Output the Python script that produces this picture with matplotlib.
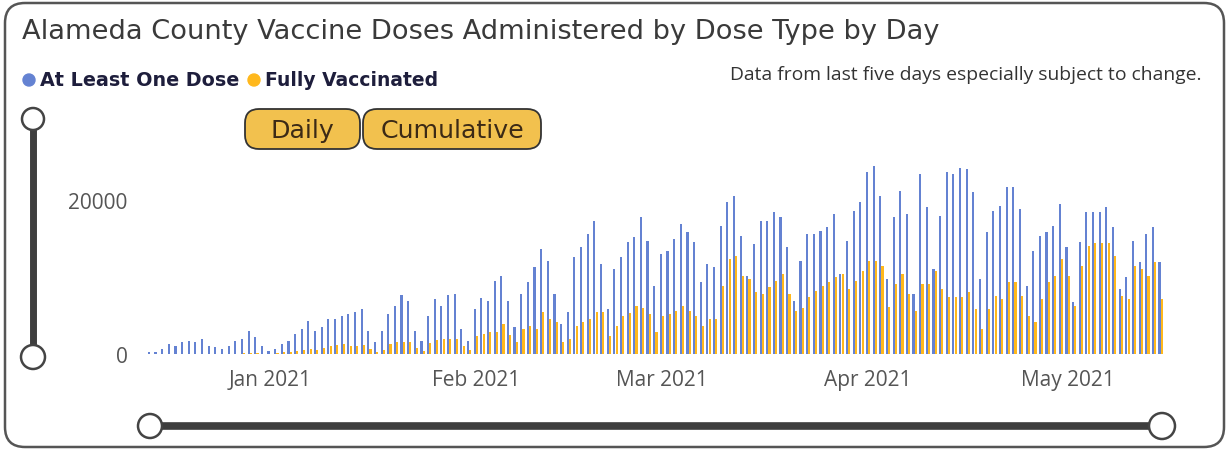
import pandas as pd
import matplotlib
matplotlib.use("Agg")
import matplotlib.pyplot as plt
import matplotlib.dates as mdates
from matplotlib.patches import FancyBboxPatch, Circle

# daily doses, one value per day from start_date to end_date
start_date = "2020-12-14"
end_date = "2021-05-15"

at_least_one = [
    260, 260, 650, 1300, 1040, 1560, 1690, 1560, 1950, 1040,
    910, 650, 1040, 1690, 1950, 2990, 2210, 1040, 390, 650,
    1300, 1690, 2600, 3250, 4290, 2990, 3510, 4550, 4550, 4940,
    5200, 5460, 5850, 2990, 1560, 2990, 5200, 6240, 7670, 6890,
    2990, 1690, 4940, 7150, 6240, 7670, 7800, 3250, 1690, 5850,
    7280, 6890, 9490, 10140, 6890, 3510, 7800, 9360, 11310, 13650,
    12090,
    7800, 3900, 5460, 12610, 13910, 15600, 17290, 11700, 5850, 11050,
    12610, 14560, 15210, 17810, 14690, 8840, 13000, 13390, 14950, 16900,
    15860, 14560, 9360, 11700, 11310, 16640, 19760, 20540, 15340, 10140,
    14300,
    17290, 17290, 18460, 17810, 13910, 6890, 12090, 15600, 15600, 15990,
    16510, 18200, 10400, 14690, 18590, 19760, 23660, 24440, 20540, 9750,
    17810, 21190, 18200, 7800, 23400, 19110, 11050, 17940, 23660, 23400,
    24200, 24000, 21000, 9750, 15860, 18590, 19240, 21710, 21710, 18850,
    8840, 13390, 15340, 15860, 16640, 19500, 13910, 6760, 14560, 18460,
    18460, 18460, 19110, 16510, 8450, 10010, 14690, 11960, 15600, 16510,
    11960,
]

fully_vaccinated = [
    0, 0, 0, 0, 0, 0, 0, 0, 0, 0,
    0, 0, 0, 50, 80, 100, 120, 60, 40, 80,
    200, 300, 400, 500, 700, 500, 800, 1000, 1200, 1300,
    1000, 1100, 1200, 600, 300, 500, 1300, 1500, 1600, 1500,
    800, 400, 1400, 1800, 2000, 1900, 2000, 1000, 500, 2300,
    2600, 2900, 2800, 3900, 2500, 1500, 3200, 3600, 3300, 5460,
    4550,
    4160, 1560, 1950, 3600, 4200, 4600, 5500, 5500, 2340, 3600,
    4900, 5300, 6200, 6000, 5200, 2860, 4900, 5200, 5600, 6200,
    5600, 5000, 3600, 4550, 4550, 8840, 12350, 12740, 10140, 9800,
    8060,
    7800, 8700, 9500, 10400, 7800, 5600, 6000, 7400, 8200, 8800,
    9400, 10000, 10400, 8500, 9500, 10800, 12100, 12100, 11400, 6100,
    9100, 10400, 7800, 5600, 9100, 9100, 10800, 8500, 7400, 7400,
    7400, 8000, 5850, 3250, 5850, 7540, 7200, 9360, 9360, 7540,
    4940, 4160, 7150, 9360, 10140, 12350, 10140, 6240, 11440, 14040,
    14400, 14400, 14400, 12740, 7540, 7100, 11440, 11000, 10140, 11960,
    7150,
]

series_names = ["At Least One Dose", "Fully Vaccinated"]
y_ticks = [0, 20000]
x_tick_dates = ["2021-01-01", "2021-02-01", "2021-03-01", "2021-04-01", "2021-05-01"]

BLUE = "#6482D2"
ORANGE = "#FFB81C"
GOLD = "#F2C14E"
DARK = "#3E3E3E"

days = pd.date_range(start_date, end_date, freq="D")
x = mdates.date2num(days)

W, H = 1230, 452
fig = plt.figure(figsize=(W / 100, H / 100), dpi=100)
fig.patch.set_facecolor("white")

# overlay in pixel coordinates for the card, sliders, legend and buttons
deco = fig.add_axes([0, 0, 1, 1])
deco.set_xlim(0, W)
deco.set_ylim(H, 0)
deco.axis("off")

deco.add_patch(FancyBboxPatch((5, 4), 1219, 444, boxstyle="round,pad=0,rounding_size=20",
                              facecolor="white", edgecolor="#555555", linewidth=1.8))

deco.text(22, 32, "Alameda County Vaccine Doses Administered by Dose Type by Day",
          fontsize=19.6, color="#3A3A3A", va="center", ha="left", family="DejaVu Sans")

# legend
deco.add_patch(Circle((29, 81), 6, color=BLUE))
deco.text(40, 81, series_names[0], fontsize=13.8, fontweight="bold", color="#1E1E3C",
          va="center", ha="left", family="DejaVu Sans")
deco.add_patch(Circle((254, 81), 6, color=ORANGE))
deco.text(265, 81, series_names[1], fontsize=13.5, fontweight="bold", color="#1E1E3C",
          va="center", ha="left", family="DejaVu Sans")

deco.text(1201, 75, "Data from last five days especially subject to change.",
          fontsize=13.9, color="#333333", va="center", ha="right", family="Open Sans")

# Daily / Cumulative buttons
for bx, bw, label in [(245, 115, "Daily"), (363, 178, "Cumulative")]:
    deco.add_patch(FancyBboxPatch((bx, 110), bw, 40, boxstyle="round,pad=0,rounding_size=14",
                                  facecolor=GOLD, edgecolor="#333333", linewidth=1.3))
    deco.text(bx + bw / 2, 131, label, fontsize=18.2, color="#3C2A16",
              va="center", ha="center", family="DejaVu Sans")

# vertical slider
deco.plot([33, 33], [120, 357], color=DARK, linewidth=5, solid_capstyle="butt")
for cy, r in [(120, 11), (358, 12)]:
    deco.add_patch(Circle((33, cy), r, facecolor="white", edgecolor="#444444", linewidth=1.8, zorder=3))

# horizontal slider
deco.plot([150, 1162], [427, 427], color=DARK, linewidth=5.5, solid_capstyle="butt")
for cx, r in [(150, 12), (1162, 13)]:
    deco.add_patch(Circle((cx, 427), r, facecolor="white", edgecolor="#444444", linewidth=1.8, zorder=3))

# bar chart
ax = fig.add_axes([140 / W, (H - 355) / H, 1030 / W, 200 / H])
ax.patch.set_alpha(0)
ax.bar(x - 0.17, at_least_one, width=0.32, color=BLUE, linewidth=0)
ax.bar(x + 0.17, fully_vaccinated, width=0.32, color=ORANGE, linewidth=0)

ax.set_xlim(x[0] - 1.5, x[0] + 153.4)
ax.set_ylim(0, 26000)
ax.set_yticks(y_ticks)
ax.set_yticklabels([str(v) for v in y_ticks])
tick_pos = mdates.date2num(pd.to_datetime(x_tick_dates))
ax.set_xticks(tick_pos)
ax.set_xticklabels([pd.Timestamp(d).strftime("%b %Y") for d in x_tick_dates])
ax.tick_params(axis="x", length=0, pad=11, labelsize=15, labelcolor="#555555")
ax.tick_params(axis="y", length=0, pad=9, labelsize=15, labelcolor="#555555")
for lab in ax.get_xticklabels() + ax.get_yticklabels():
    lab.set_family("Open Sans")
for s in ax.spines.values():
    s.set_visible(False)

fig.savefig("out.png", dpi=100)
